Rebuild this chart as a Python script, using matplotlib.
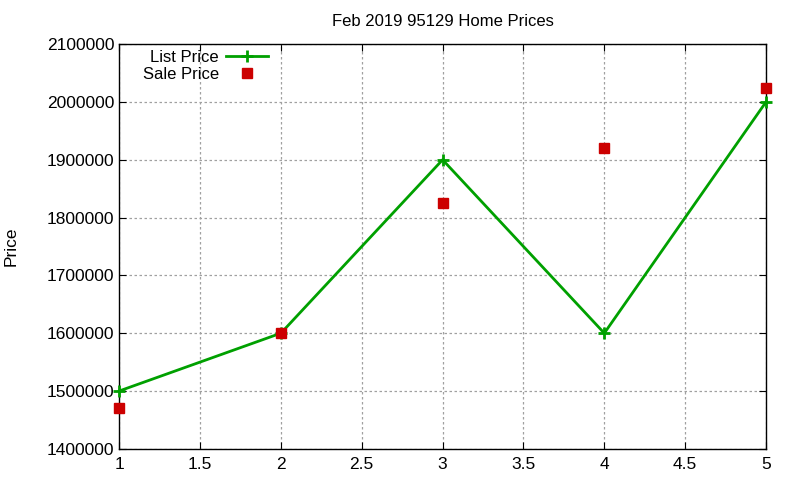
import matplotlib
matplotlib.use('Agg')
import matplotlib.pyplot as plt

plt.rcParams['font.family'] = ['Liberation Sans', 'DejaVu Sans']

# --- data ---
listing = [1, 2, 3, 4, 5]
list_price = [1500000, 1600000, 1900000, 1600000, 2000000]
sale_price = [1470000, 1600000, 1825000, 1920000, 2025000]
y_ticks = [1400000, 1500000, 1600000, 1700000, 1800000, 1900000, 2000000, 2100000]
x_ticks = [1, 1.5, 2, 2.5, 3, 3.5, 4, 4.5, 5]

fig = plt.figure(figsize=(8, 4.8), dpi=100)
ax = fig.add_axes([0.149, 0.065, 0.8085, 0.843])

ax.plot(listing, list_price, color='#00a000', lw=2, marker='+', ms=9, mew=2,
        label='List Price', clip_on=False, zorder=3)
ax.plot(listing, sale_price, ls='none', marker='s', ms=6.5, color='#cc0000',
        label='Sale Price', clip_on=False, zorder=3)

ax.set_xlim(1, 5)
ax.set_ylim(1400000, 2100000)
ax.set_xticks(x_ticks)
ax.set_xticklabels(['1', '1.5', '2', '2.5', '3', '3.5', '4', '4.5', '5'])
ax.set_yticks(y_ticks)
ax.set_yticklabels([str(v) for v in y_ticks])
ax.tick_params(direction='in', top=True, right=True, labelsize=12.5, length=5)
ax.tick_params(axis='x', pad=6)
ax.grid(True, color='#a0a0a0', ls=(0, (2, 2)), lw=0.9)
for s in ax.spines.values():
    s.set_linewidth(1)

ax.set_ylabel('Price', fontsize=12.5, labelpad=20)
ax.set_title('Feb 2019 95129 Home Prices', fontsize=12, pad=13)

ax.legend(loc='upper left', bbox_to_anchor=(0.018, 1.015), frameon=False,
          markerfirst=False, fontsize=12, handlelength=2.5, handletextpad=0.45,
          borderaxespad=0.3, labelspacing=0.12)

fig.savefig('out.png')
